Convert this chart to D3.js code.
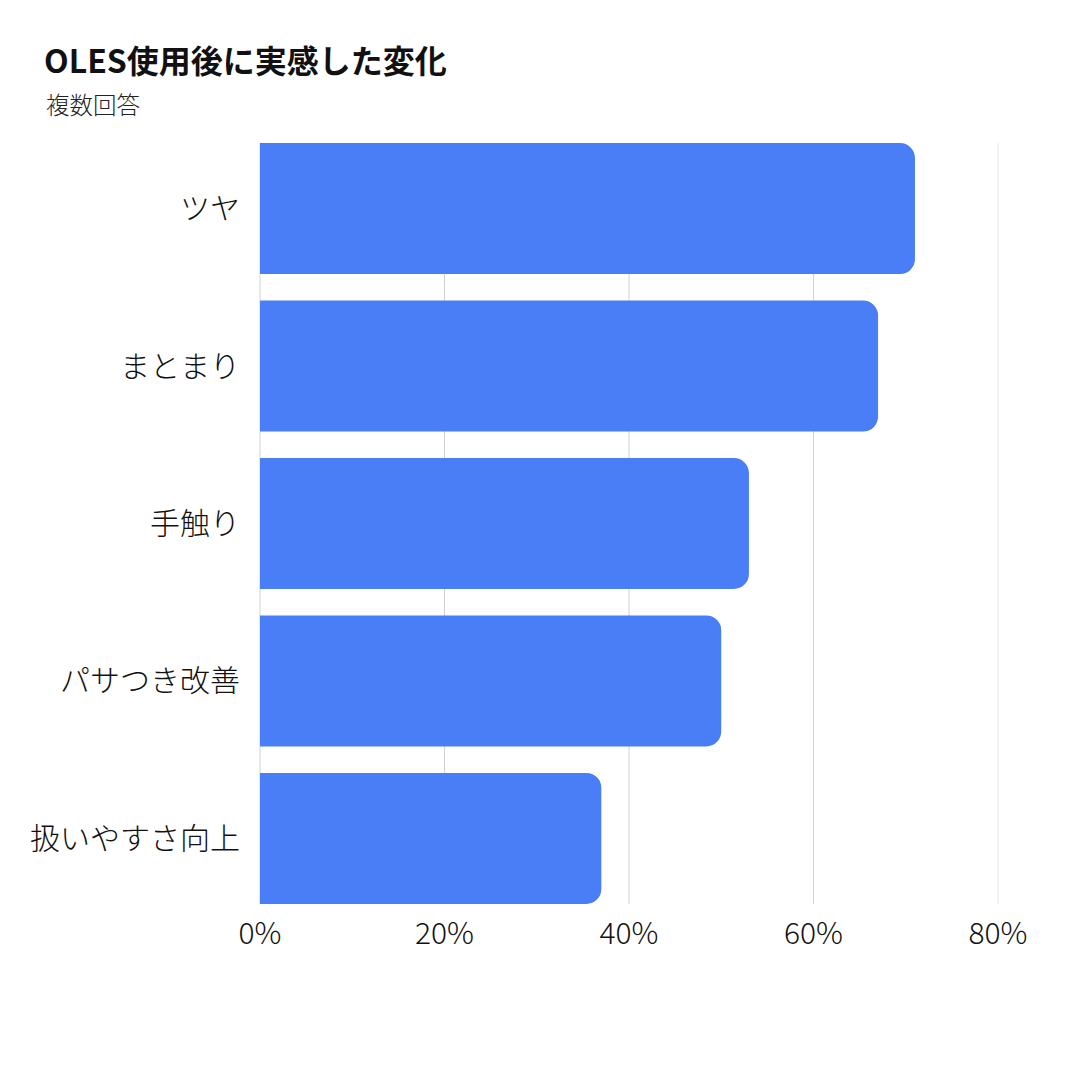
<!DOCTYPE html>
<html>
<head>
<meta charset="utf-8">
<script src="https://cdn.jsdelivr.net/npm/d3@7"></script>
<style>
  body { margin: 0; background: #fff; }
  svg { display: block; font-family: "Noto Sans CJK JP", "Noto Sans", sans-serif; }
</style>
</head>
<body>
<div id="chart"></div>
<script>
// Data
const categories = ["ツヤ", "まとまり", "手触り", "パサつき改善", "扱いやすさ向上"];
const values = [71, 67, 53, 50, 37];
const ticks = [0, 20, 40, 60, 80];

const width = 1080, height = 1080;
const margin = { top: 143, right: 82, bottom: 176, left: 260 };

const svg = d3.select("#chart").append("svg")
    .attr("width", width)
    .attr("height", height);

svg.append("rect").attr("width", width).attr("height", height).attr("fill", "#fff");

// Title
svg.append("text")
    .attr("x", 44).attr("y", 73)
    .attr("font-size", 32).attr("font-weight", 700).attr("fill", "#111")
    .text("OLES使用後に実感した変化");
svg.append("text")
    .attr("x", 46).attr("y", 114)
    .attr("font-size", 23.5).attr("font-weight", 300).attr("fill", "#222")
    .text("複数回答");

const x = d3.scaleLinear()
    .domain([0, 80])
    .range([margin.left, width - margin.right]);

const y = d3.scaleBand()
    .domain(categories)
    .range([margin.top, height - margin.bottom])
    .paddingInner(0.168)
    .paddingOuter(0);

// Gridlines
svg.append("g")
    .selectAll("line")
    .data(ticks)
    .join("line")
    .attr("x1", d => x(d)).attr("x2", d => x(d))
    .attr("y1", margin.top).attr("y2", height - margin.bottom)
    .attr("stroke", d => d === 80 ? "#ebe6ee" : "#d2d2d2")
    .attr("stroke-width", 1);

// Bars with rounded right corners
const r = 15;
function barPath(d, i) {
    const x0 = x(0), x1 = x(d), y0 = y(categories[i]), h = y.bandwidth();
    return `M${x0},${y0}H${x1 - r}A${r},${r} 0 0 1 ${x1},${y0 + r}V${y0 + h - r}A${r},${r} 0 0 1 ${x1 - r},${y0 + h}H${x0}Z`;
}

svg.append("g")
    .selectAll("path")
    .data(values)
    .join("path")
    .attr("d", barPath)
    .attr("fill", "#4a7ef6");

// Category labels
svg.append("g")
    .selectAll("text")
    .data(categories)
    .join("text")
    .attr("x", 240)
    .attr("y", d => y(d) + y.bandwidth() / 2)
    .attr("dy", "0.35em")
    .attr("text-anchor", "end")
    .attr("font-size", 30)
    .attr("font-weight", 300)
    .attr("fill", "#111")
    .text(d => d);

// X axis tick labels
svg.append("g")
    .selectAll("text")
    .data(ticks)
    .join("text")
    .attr("x", d => x(d))
    .attr("y", 933)
    .attr("dy", "0.35em")
    .attr("text-anchor", "middle")
    .attr("font-size", 30)
    .attr("font-weight", 300)
    .attr("fill", "#111")
    .text(d => d + "%");
</script>
</body>
</html>
